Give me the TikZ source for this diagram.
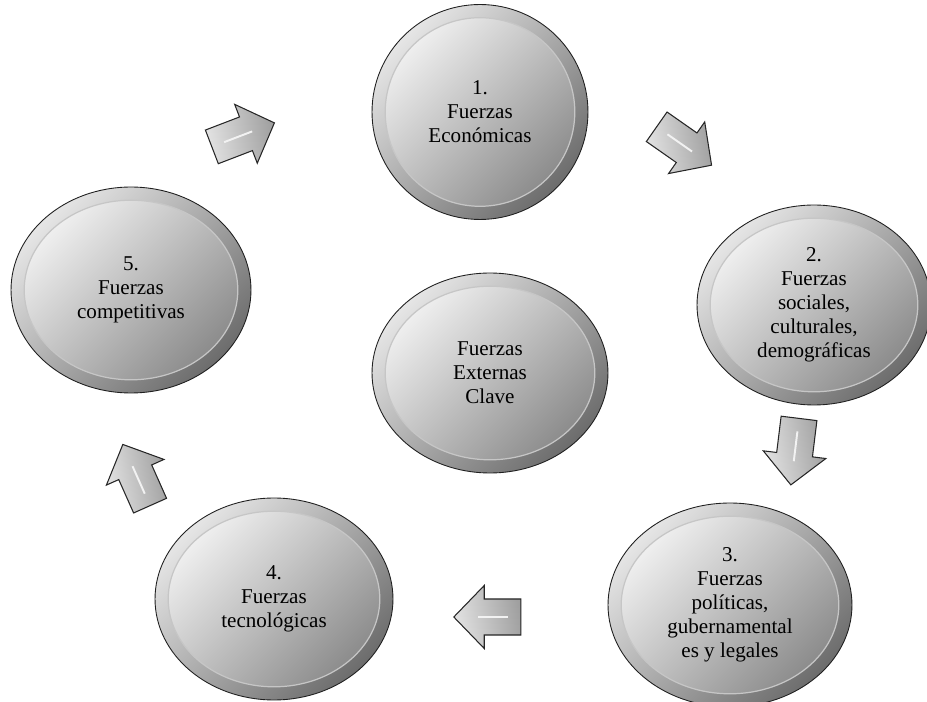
\documentclass[tikz,border=0pt]{standalone}
\usepackage{fontspec}
\setmainfont{Liberation Serif}
\usepackage{tikz}
\usetikzlibrary{shapes,arrows,positioning,calc}
\tikzstyle{cara} = [top color=gray!8, bottom color=gray!95, shading angle=45, draw=gray!45, line width=0.7pt]
\tikzstyle{fuerza} = [ellipse, draw=gray!25!black, line width=0.5pt, top color=gray!20, bottom color=gray!85!black, shading angle=45, align=center, inner sep=0pt, font=\fontsize{12}{13.6}\selectfont,
  path picture={\shade[cara] let \p1=(path picture bounding box.north east), \p2=(path picture bounding box.south west) in (path picture bounding box.center) ellipse [x radius={(\x1-\x2)/2-7.5pt}, y radius={(\y1-\y2)/2-7.5pt}];}]
\tikzstyle{flecha} = [single arrow, single arrow head extend=0.27cm, single arrow tip angle=92, minimum height=1.34cm, inner xsep=0pt, inner ysep=0.35cm, draw=gray!30!black, line width=0.6pt, left color=gray!22, right color=gray!75, shading angle=100]
\tikzstyle{ranura} = [line width=1.1pt, white!90!gray]

\begin{document}
\begin{tikzpicture}[x=0.02cm, y=-0.02cm]
        \useasboundingbox (0,0) rectangle (927,702);
        \node (economicas) [fuerza, minimum width=4.32cm, minimum height=4.3cm] at (480,112) {1.\\Fuerzas\\Económicas};
        \node (sociales) [fuerza, minimum width=4.68cm, minimum height=4.0cm] at (814,305) {2.\\Fuerzas\\sociales,\\culturales,\\demográficas};
        \node (politicas) [fuerza, minimum width=4.88cm, minimum height=4.08cm] at (730,605) {3.\\Fuerzas\\políticas,\\gubernamental\\es y legales};
        \node (tecnologicas) [fuerza, minimum width=4.76cm, minimum height=4.04cm] at (274,599) {4.\\Fuerzas\\tecnológicas};
        \node (competitivas) [fuerza, minimum width=4.8cm, minimum height=4.12cm] at (131,290) {5.\\Fuerzas\\competitivas};
        \node (externas) [fuerza, minimum width=4.72cm, minimum height=4.0cm] at (490,373) {Fuerzas\\Externas\\Clave};
        % flechas del ciclo
        \node (flecha1) [flecha, rotate=-35] at (677,141) {};
        \node (flecha2) [flecha, rotate=-97] at (796,443) {};
        \node (flecha3) [flecha, rotate=180] at (496,617) {};
        \node (flecha4) [flecha, rotate=114] at (140,483) {};
        \node (flecha5) [flecha, rotate=21] at (235,138) {};
        \foreach \f in {1,...,5}
            \draw [ranura] ($(flecha\f.tail)!0.2!(flecha\f.tip)$) -- ($(flecha\f.tail)!0.64!(flecha\f.tip)$);
    \end{tikzpicture}
\end{document}
